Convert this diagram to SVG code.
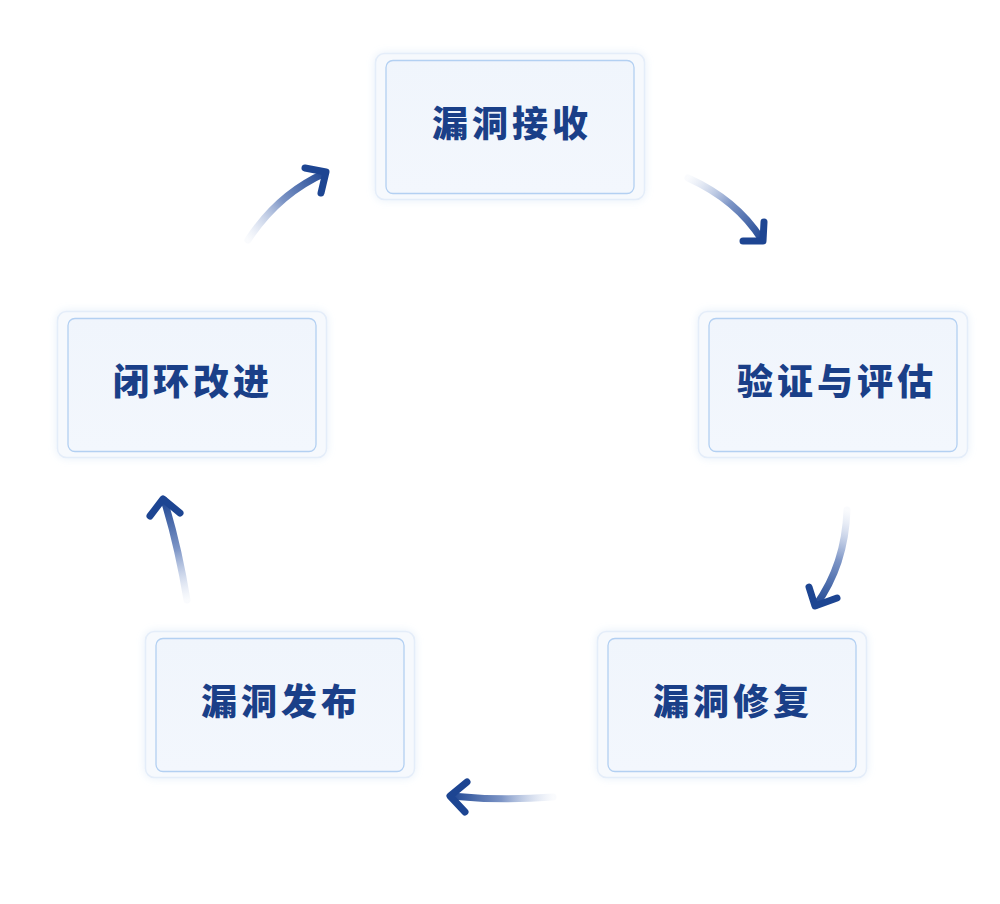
<svg xmlns="http://www.w3.org/2000/svg" width="1000" height="904" viewBox="0 0 1000 904">
  <defs>
    <style>
      .outer { fill: #f6f9fd; stroke: #e4edf9; stroke-width: 1.5; filter: url(#glow); }
      .inner { fill: url(#innerFill); stroke: #b3d0f2; stroke-width: 1.3; }
      .label { font-family: "Noto Sans CJK SC", "Noto Sans", sans-serif; font-size: 36px; font-weight: 900; fill: #1a3f88; text-anchor: middle; dominant-baseline: central; letter-spacing: 4px; }
      .arc { fill: none; stroke-width: 7; stroke-linecap: round; }
      .head { fill: none; stroke: #1d4592; stroke-width: 7; stroke-linecap: round; stroke-linejoin: round; }
    </style>
    <filter id="glow" x="-10%" y="-15%" width="120%" height="130%">
      <feGaussianBlur in="SourceAlpha" stdDeviation="4" result="b"/>
      <feFlood flood-color="#c9dbf2" flood-opacity="0.45"/>
      <feComposite in2="b" operator="in" result="s"/>
      <feMerge><feMergeNode in="s"/><feMergeNode in="SourceGraphic"/></feMerge>
    </filter>
    <linearGradient id="innerFill" x1="0" y1="0" x2="0" y2="1">
      <stop offset="0" stop-color="#f0f5fc"/>
      <stop offset="1" stop-color="#f3f7fd"/>
    </linearGradient>
    <linearGradient id="g1" gradientUnits="userSpaceOnUse" x1="248" y1="240" x2="326" y2="172">
      <stop offset="0" stop-color="#c9d5ec" stop-opacity="0.1"/>
      <stop offset="0.5" stop-color="#7d95c6"/>
      <stop offset="1" stop-color="#1d4592"/>
    </linearGradient>
    <linearGradient id="g2" gradientUnits="userSpaceOnUse" x1="688" y1="178" x2="763" y2="241">
      <stop offset="0" stop-color="#c9d5ec" stop-opacity="0.1"/>
      <stop offset="0.5" stop-color="#7d95c6"/>
      <stop offset="1" stop-color="#1d4592"/>
    </linearGradient>
    <linearGradient id="g3" gradientUnits="userSpaceOnUse" x1="847" y1="510" x2="815" y2="606">
      <stop offset="0" stop-color="#c9d5ec" stop-opacity="0.1"/>
      <stop offset="0.5" stop-color="#7d95c6"/>
      <stop offset="1" stop-color="#1d4592"/>
    </linearGradient>
    <linearGradient id="g4" gradientUnits="userSpaceOnUse" x1="553" y1="797" x2="450" y2="796">
      <stop offset="0" stop-color="#c9d5ec" stop-opacity="0.1"/>
      <stop offset="0.5" stop-color="#7d95c6"/>
      <stop offset="1" stop-color="#1d4592"/>
    </linearGradient>
    <linearGradient id="g5" gradientUnits="userSpaceOnUse" x1="187" y1="600" x2="163" y2="499">
      <stop offset="0" stop-color="#c9d5ec" stop-opacity="0.1"/>
      <stop offset="0.5" stop-color="#7d95c6"/>
      <stop offset="1" stop-color="#1d4592"/>
    </linearGradient>
  </defs>

  <rect width="1000" height="904" fill="#ffffff"/>

  <g id="connectors">
    <path class="arc" stroke="url(#g1)" d="M248,240 Q278,194 325,173"/>
    <path class="head" d="M305,168 L326,172 L321,193"/>
    <path class="arc" stroke="url(#g2)" d="M688,178 Q737,200 762,240"/>
    <path class="head" d="M764,222 L763,241 L743,241"/>
    <path class="arc" stroke="url(#g3)" d="M847,510 Q845,565 816,605"/>
    <path class="head" d="M809,587 L815,606 L837,598"/>
    <path class="arc" stroke="url(#g4)" d="M553,797 Q500,801 451,796"/>
    <path class="head" d="M467,782 L450,796 L465,812"/>
    <path class="arc" stroke="url(#g5)" d="M187,600 Q178,545 164,500"/>
    <path class="head" d="M150,516 L163,499 L180,513"/>
  </g>

  <g id="node-receive">
    <rect class="outer" x="375.5" y="53.5" width="269" height="146" rx="9"/>
    <rect class="inner" x="386" y="60.5" width="248" height="133" rx="7"/>
    <text class="label" x="512" y="121">漏洞接收</text>
  </g>

  <g id="node-verify">
    <rect class="outer" x="698.5" y="311.5" width="269" height="146" rx="9"/>
    <rect class="inner" x="709" y="318.5" width="248" height="133" rx="7"/>
    <text class="label" x="837" y="379">验证与评估</text>
  </g>

  <g id="node-fix">
    <rect class="outer" x="597.5" y="631.5" width="269" height="146" rx="9"/>
    <rect class="inner" x="608" y="638.5" width="248" height="133" rx="7"/>
    <text class="label" x="733" y="699">漏洞修复</text>
  </g>

  <g id="node-release">
    <rect class="outer" x="145.5" y="631.5" width="269" height="146" rx="9"/>
    <rect class="inner" x="156" y="638.5" width="248" height="133" rx="7"/>
    <text class="label" x="281" y="699">漏洞发布</text>
  </g>

  <g id="node-improve">
    <rect class="outer" x="57.5" y="311.5" width="269" height="146" rx="9"/>
    <rect class="inner" x="68" y="318.5" width="248" height="133" rx="7"/>
    <text class="label" x="193" y="379">闭环改进</text>
  </g>
</svg>
